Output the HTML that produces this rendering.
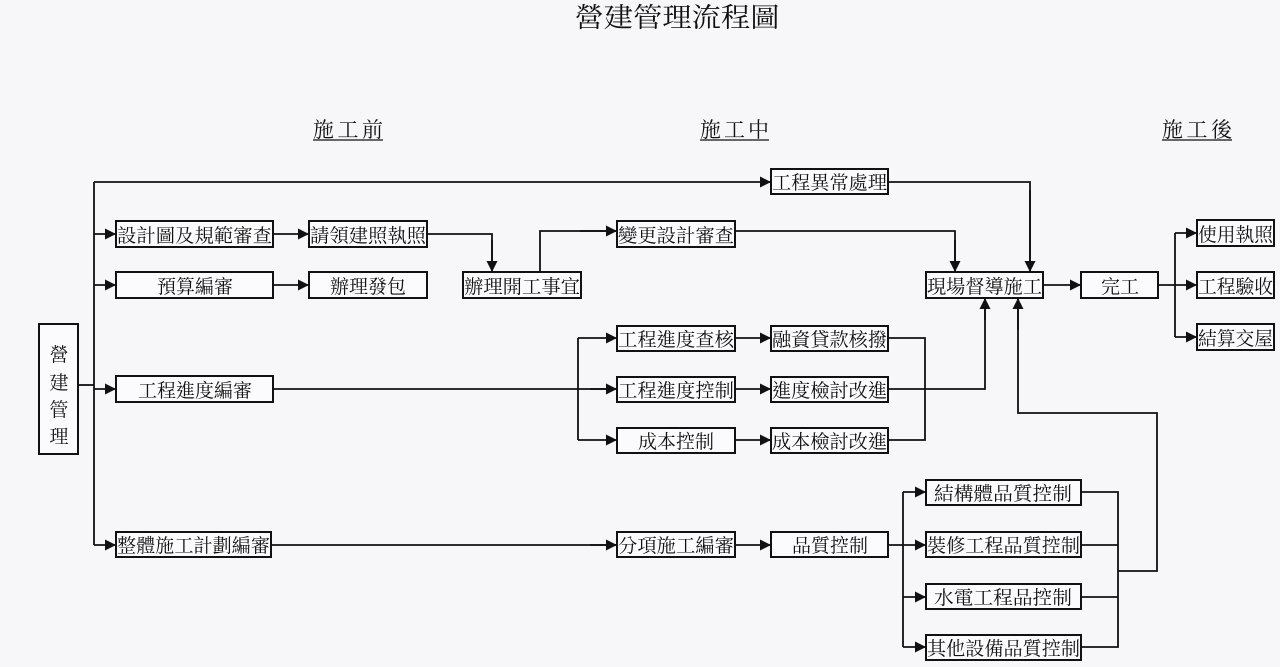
<!DOCTYPE html>
<html><head><meta charset="utf-8"><style>
html,body{margin:0;padding:0;background:#f7f7fa;}
svg{display:block;}
text{font-family:"Liberation Serif","Noto Serif CJK TC","Noto Serif CJK SC",serif;fill:#111;}
.b{fill:#fbfbfd;stroke:#111;stroke-width:2;}
.l{fill:none;stroke:#111;stroke-width:1.8;}
.t{font-size:19px;}
</style></head><body>
<svg width="1280" height="667" viewBox="0 0 1280 667" xmlns="http://www.w3.org/2000/svg">
<defs>
<marker id="m" viewBox="0 0 10 10" refX="10" refY="5" markerWidth="11" markerHeight="11" markerUnits="userSpaceOnUse" orient="auto"><path d="M0,0L10,5L0,10z" fill="#111"/></marker></defs>

<text x="677" y="27" font-size="27" text-anchor="middle" textLength="205" lengthAdjust="spacingAndGlyphs">營建管理流程圖</text>
<text x="313" y="137" font-size="21" textLength="70">施工前</text>
<line x1="313" y1="140" x2="383" y2="140" stroke="#111" stroke-width="1.3"/>
<text x="700" y="137" font-size="21" textLength="69">施工中</text>
<line x1="700" y1="140" x2="769" y2="140" stroke="#111" stroke-width="1.3"/>
<text x="1162" y="137" font-size="21" textLength="70">施工後</text>
<line x1="1162" y1="140" x2="1232" y2="140" stroke="#111" stroke-width="1.3"/>

<!-- connectors (no arrows) -->
<g class="l">
<path d="M94,182V545"/>
<path d="M888,182H1030V272"/>
<path d="M78,385H94"/>
<path d="M427,234H492V272"/>
<path d="M540,272V231H617"/>
<path d="M273,389H617"/>
<path d="M578,338V440"/>
<path d="M888,338H925V440H888"/>
<path d="M888,389H985V298"/>
<path d="M735,231H955V272"/>
<path d="M1175,233V337"/>
<path d="M271,545H617"/>
<path d="M903,492V647"/>
<path d="M1081,492H1118V647H1081"/>
<path d="M1081,545H1118"/><path d="M1081,597H1118"/>
<path d="M1118,571H1157V413H1018V298"/>
</g>
<g class="l">
<path d="M94,182H771" marker-end="url(#m)"/>
<path d="M1030,190V272" marker-end="url(#m)"/>
<path d="M94,234H116" marker-end="url(#m)"/><path d="M94,285H116" marker-end="url(#m)"/><path d="M94,389H116" marker-end="url(#m)"/><path d="M94,545H116" marker-end="url(#m)"/>
<path d="M273,234H309" marker-end="url(#m)"/><path d="M273,285H309" marker-end="url(#m)"/>
<path d="M492,240V272" marker-end="url(#m)"/>
<path d="M580,231H617" marker-end="url(#m)"/>
<path d="M590,389H617" marker-end="url(#m)"/>
<path d="M578,338H617" marker-end="url(#m)"/><path d="M578,440H617" marker-end="url(#m)"/>
<path d="M735,338H771" marker-end="url(#m)"/><path d="M735,389H771" marker-end="url(#m)"/><path d="M735,440H771" marker-end="url(#m)"/>
<path d="M985,320V298" marker-end="url(#m)"/>
<path d="M955,240V272" marker-end="url(#m)"/>
<path d="M1043,285H1081" marker-end="url(#m)"/>
<path d="M1158,285H1197" marker-end="url(#m)"/>
<path d="M1175,233H1197" marker-end="url(#m)"/><path d="M1175,337H1197" marker-end="url(#m)"/>
<path d="M590,545H617" marker-end="url(#m)"/><path d="M735,545H771" marker-end="url(#m)"/><path d="M888,545H926" marker-end="url(#m)"/>
<path d="M903,492H926" marker-end="url(#m)"/><path d="M903,597H926" marker-end="url(#m)"/><path d="M903,647H926" marker-end="url(#m)"/>
<path d="M1018,330V298" marker-end="url(#m)"/>
</g>

<!-- boxes -->
<rect class="b" x="39" y="324" width="39" height="130"/>
<g class="t" text-anchor="middle">
<text x="59" y="361">營</text><text x="59" y="389">建</text><text x="59" y="416">管</text><text x="59" y="443">理</text>
</g>

<rect class="b" x="116" y="221" width="157" height="26"/><text class="t" x="117" y="242" textLength="155" lengthAdjust="spacingAndGlyphs">設計圖及規範審查</text>
<rect class="b" x="116" y="272" width="157" height="26"/><text class="t" x="195" y="293" text-anchor="middle">預算編審</text>
<rect class="b" x="116" y="376" width="157" height="26"/><text class="t" x="195" y="397" text-anchor="middle">工程進度編審</text>
<rect class="b" x="116" y="532" width="155" height="25"/><text class="t" x="117" y="552" textLength="153" lengthAdjust="spacingAndGlyphs">整體施工計劃編審</text>
<rect class="b" x="309" y="221" width="118" height="26"/><text class="t" x="310" y="242" textLength="116" lengthAdjust="spacingAndGlyphs">請領建照執照</text>
<rect class="b" x="309" y="272" width="118" height="26"/><text class="t" x="368" y="293" text-anchor="middle">辦理發包</text>
<rect class="b" x="463" y="272" width="118" height="26"/><text class="t" x="464" y="293" textLength="116" lengthAdjust="spacingAndGlyphs">辦理開工事宜</text>
<rect class="b" x="617" y="221" width="118" height="26"/><text class="t" x="618" y="242" textLength="116" lengthAdjust="spacingAndGlyphs">變更設計審查</text>
<rect class="b" x="771" y="169" width="117" height="25"/><text class="t" x="772" y="189" textLength="115" lengthAdjust="spacingAndGlyphs">工程異常處理</text>
<rect class="b" x="617" y="326" width="118" height="25"/><text class="t" x="618" y="346" textLength="116" lengthAdjust="spacingAndGlyphs">工程進度查核</text>
<rect class="b" x="617" y="377" width="118" height="25"/><text class="t" x="618" y="397" textLength="116" lengthAdjust="spacingAndGlyphs">工程進度控制</text>
<rect class="b" x="617" y="428" width="118" height="25"/><text class="t" x="676" y="448" text-anchor="middle">成本控制</text>
<rect class="b" x="771" y="326" width="117" height="25"/><text class="t" x="772" y="346" textLength="115" lengthAdjust="spacingAndGlyphs">融資貸款核撥</text>
<rect class="b" x="771" y="377" width="117" height="25"/><text class="t" x="772" y="397" textLength="115" lengthAdjust="spacingAndGlyphs">進度檢討改進</text>
<rect class="b" x="771" y="428" width="117" height="25"/><text class="t" x="772" y="448" textLength="115" lengthAdjust="spacingAndGlyphs">成本檢討改進</text>
<rect class="b" x="617" y="532" width="118" height="25"/><text class="t" x="618" y="552" textLength="116" lengthAdjust="spacingAndGlyphs">分項施工編審</text>
<rect class="b" x="771" y="532" width="117" height="25"/><text class="t" x="830" y="552" text-anchor="middle">品質控制</text>
<rect class="b" x="926" y="272" width="117" height="26"/><text class="t" x="927" y="293" textLength="115" lengthAdjust="spacingAndGlyphs">現場督導施工</text>
<rect class="b" x="1081" y="272" width="77" height="26"/><text class="t" x="1120" y="293" text-anchor="middle">完工</text>
<rect class="b" x="1197" y="220" width="77" height="26"/><text class="t" x="1198" y="241" textLength="75" lengthAdjust="spacingAndGlyphs">使用執照</text>
<rect class="b" x="1197" y="272" width="77" height="26"/><text class="t" x="1198" y="293" textLength="75" lengthAdjust="spacingAndGlyphs">工程驗收</text>
<rect class="b" x="1197" y="324" width="77" height="26"/><text class="t" x="1198" y="345" textLength="75" lengthAdjust="spacingAndGlyphs">結算交屋</text>
<rect class="b" x="926" y="480" width="155" height="25"/><text class="t" x="1003" y="500" text-anchor="middle" textLength="138" lengthAdjust="spacingAndGlyphs">結構體品質控制</text>
<rect class="b" x="926" y="532" width="155" height="25"/><text class="t" x="927" y="552" textLength="153" lengthAdjust="spacingAndGlyphs">裝修工程品質控制</text>
<rect class="b" x="926" y="584" width="155" height="25"/><text class="t" x="1003" y="604" text-anchor="middle" textLength="138" lengthAdjust="spacingAndGlyphs">水電工程品控制</text>
<rect class="b" x="926" y="635" width="155" height="25"/><text class="t" x="927" y="655" textLength="153" lengthAdjust="spacingAndGlyphs">其他設備品質控制</text>
</svg>
</body></html>
